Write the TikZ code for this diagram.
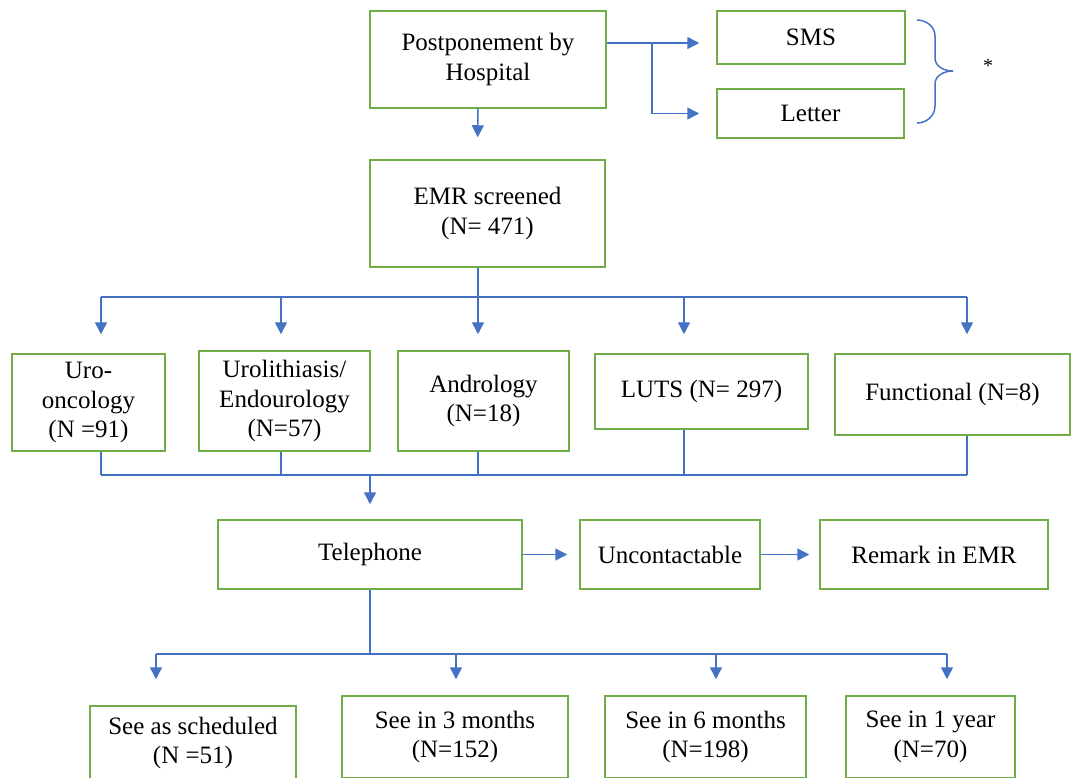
\documentclass[tikz,border=0pt]{standalone}
\usepackage{fontspec}
\setmainfont{Liberation Serif}
\usetikzlibrary{arrows.meta,calc}
\definecolor{boxgreen}{RGB}{112,173,71}
\definecolor{lineblue}{RGB}{68,114,196}
\begin{document}
\begin{tikzpicture}[x=1pt,y=-1pt,
  box/.style={draw=boxgreen,line width=1.5pt,align=center,inner sep=0pt,font=\fontsize{25}{29.5}\selectfont},
  conn/.style={draw=lineblue,line width=1.5pt},
  arr/.style={conn,-{Triangle[width=12pt,length=12pt]}}]
\clip (0,0) rectangle (1071,778);
% top
\node[box,minimum width=236pt,minimum height=97pt] (post) at (488,59.5) {Postponement by\\Hospital};
\node[box,minimum width=188pt,minimum height=53pt] (sms) at (811,37.5) {SMS};
\node[box,minimum width=187pt,minimum height=49pt] (letter) at (810.5,113.5) {Letter};
\node[font=\fontsize{20}{24}\selectfont] (star) at (988,66) {*};
\node[box,minimum width=235pt,minimum height=107pt] (emr) at (487.5,213.5) {EMR screened\\(N= 471)};
% row of specialties
\node[box,minimum width=153pt,minimum height=97pt] (uro) at (88.5,402.5) {Uro-\\oncology\\(N =91)};
\node[box,minimum width=171pt,minimum height=100pt] (lith) at (284.5,401) {Urolithiasis/\\Endourology\\(N=57)};
\node[box,minimum width=171pt,minimum height=100pt] (andro) at (483.5,401) {Andrology\\(N=18)};
\node[box,minimum width=213pt,minimum height=75pt] (luts) at (701.5,391.5) {LUTS (N= 297)};
\node[box,minimum width=235pt,minimum height=81pt] (func) at (952.5,394.5) {Functional (N=8)};
% telephone row
\node[box,minimum width=304pt,minimum height=69pt] (tel) at (370,554.5) {Telephone};
\node[box,minimum width=180pt,minimum height=69pt] (unc) at (670,554.5) {Uncontactable};
\node[box,minimum width=228pt,minimum height=69pt] (rem) at (934,554.5) {Remark in EMR};
% outcomes
\node[box,minimum width=206pt,minimum height=74pt] (sched) at (193,743) {See as scheduled\\(N =51)};
\node[box,minimum width=226pt,minimum height=82pt] (m3) at (455,737) {See in 3 months\\(N=152)};
\node[box,minimum width=201pt,minimum height=82pt] (m6) at (705.5,737) {See in 6 months\\(N=198)};
\node[box,minimum width=169pt,minimum height=82pt] (y1) at (930.5,737) {See in 1 year\\(N=70)};

% brace
\draw[conn] (917,20) to[out=0,in=90] (935,36) -- (935,58) to[out=-90,in=180] (953,71)
  to[out=180,in=90] (935,84) -- (935,106) to[out=-90,in=0] (917,123);

% connectors top
\coordinate (sp) at (652,43);
\draw[arr,shorten >=17pt] (post.east |- sp) -- (sms.west |- sp);
\draw[arr,shorten >=17pt] (sp) |- (letter.west);
\draw[arr,shorten >=22pt] ([xshift=-10pt]post.south) -- ([xshift=-10pt]emr.north);

% EMR to specialties
\coordinate (bus1) at (478,297);
\draw[conn] ([xshift=-9.5pt]emr.south) -- (bus1);
\draw[conn] (101,297) -- (967,297);
\draw[arr,shorten >=19pt] (101,297) -- ([xshift=12.5pt]uro.north);
\draw[arr,shorten >=16pt] (281,297) -- ([xshift=-3.5pt]lith.north);
\draw[arr,shorten >=16pt] (478,297) -- ([xshift=-5.5pt]andro.north);
\draw[arr,shorten >=19pt] (684,297) -- ([xshift=-17.5pt]luts.north);
\draw[arr,shorten >=19pt] (967,297) -- ([xshift=14.5pt]func.north);

% specialties to telephone
\coordinate (bus2) at (370,475);
\draw[conn] ([xshift=12.5pt]uro.south) -- (101,475);
\draw[conn] ([xshift=-3.5pt]lith.south) -- (281,475);
\draw[conn] ([xshift=-5.5pt]andro.south) -- (478,475);
\draw[conn] ([xshift=-17.5pt]luts.south) -- (684,475);
\draw[conn] ([xshift=14.5pt]func.south) -- (967,475);
\draw[conn] (101,475) -- (967,475);
\draw[arr,shorten >=15pt] (bus2) -- (tel.north);

% telephone row
\draw[arr,shorten >=12pt] (tel.east) -- (unc.west);
\draw[arr,shorten >=10pt] (unc.east) -- (rem.west);

% telephone to outcomes
\coordinate (bus3) at (370,654);
\draw[conn] (tel.south) -- (bus3);
\draw[conn] (156,654) -- (947,654);
\draw[arr,shorten >=26pt] (156,654) -- ([xshift=-37pt]sched.north);
\draw[arr,shorten >=16pt] (456,654) -- ([xshift=1pt]m3.north);
\draw[arr,shorten >=16pt] (716,654) -- ([xshift=10.5pt]m6.north);
\draw[arr,shorten >=16pt] (947,654) -- ([xshift=16.5pt]y1.north);
\end{tikzpicture}
\end{document}
